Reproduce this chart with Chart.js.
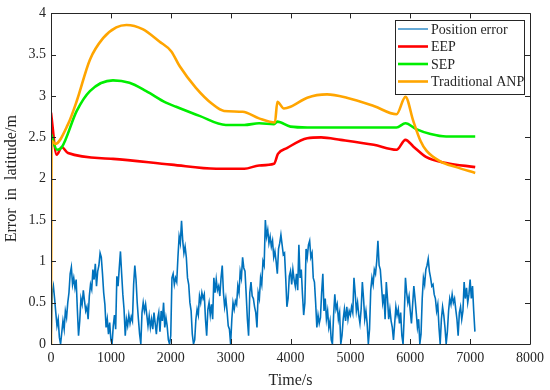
<!DOCTYPE html>
<html>
<head>
<meta charset="utf-8">
<script src="https://cdn.jsdelivr.net/npm/chart.js@4.4.0/dist/chart.umd.min.js"></script>
<style>
html,body{margin:0;padding:0;background:#fff;}
canvas{display:block;}
</style>
</head>
<body>
<canvas id="c" width="550" height="390"></canvas>
<script>
// ---- data ----
const xTicks = [0,1000,2000,3000,4000,5000,6000,7000,8000];
const yTicks = [0,0.5,1,1.5,2,2.5,3,3.5,4];
const seriesNames = ['Position error','EEP','SEP','Traditional ANP'];

// Position error sampled every 20 s starting at 0 s
const posStep = 20;
const posErr = [
 0.00,0.62,0.70,0.55,0.38,0.22,0.30,0.08,0.00,0.14,
 0.28,0.18,0.40,0.32,0.50,0.62,0.85,0.93,0.72,0.80,
 0.68,0.78,0.42,0.10,0.28,0.55,0.48,0.65,0.52,0.40,
 0.45,0.30,0.58,0.72,0.66,0.90,0.78,0.97,0.70,0.88,
 0.95,1.10,1.05,0.85,0.62,0.48,0.20,0.30,0.12,0.26,
 0.05,0.00,0.22,0.35,0.18,0.82,0.70,0.92,1.12,0.85,
 0.60,0.42,0.10,0.30,0.22,0.35,0.25,0.33,0.28,0.72,
 0.95,0.78,0.50,0.30,0.12,0.00,0.38,0.50,0.40,0.48,
 0.35,0.22,0.34,0.20,0.30,0.18,0.38,0.25,0.12,0.30,
 0.38,0.15,0.40,0.28,0.50,0.20,0.32,0.22,0.05,0.00,
 0.10,0.80,0.85,0.72,0.80,0.75,1.05,1.30,1.22,1.49,
 1.25,1.10,1.18,1.05,0.80,0.72,0.50,0.40,0.12,0.00,
 0.05,0.30,0.42,0.35,0.58,0.50,0.62,0.55,0.60,0.30,
 0.10,0.42,0.50,0.35,0.48,0.30,0.80,0.62,0.78,0.65,
 0.70,0.58,0.80,0.95,0.62,0.45,0.55,0.40,0.22,0.18,
 0.00,0.30,0.50,0.42,0.52,0.48,0.70,0.62,0.88,0.80,
 1.05,0.92,0.88,0.60,0.30,0.10,0.62,0.75,0.58,0.55,
 0.45,0.38,0.20,0.62,0.55,0.80,0.72,1.00,0.95,1.50,
 1.30,1.38,1.22,1.30,1.18,1.25,1.05,1.12,1.00,0.85,
 1.15,1.22,1.32,1.20,1.08,1.10,0.80,0.45,0.55,0.82,
 0.88,0.72,0.90,0.78,0.70,0.85,0.65,1.20,0.80,0.90,
 0.60,0.35,0.50,1.15,1.05,1.20,1.25,1.05,1.10,0.80,
 0.75,0.50,0.20,0.35,0.25,0.32,0.62,0.85,0.40,0.55,
 0.30,0.40,0.20,0.28,0.05,0.00,0.35,0.60,0.42,0.48,
 0.30,0.38,0.00,0.10,0.30,0.42,0.28,0.45,0.30,0.40,
 0.35,0.45,0.38,0.80,0.62,0.40,0.50,0.35,0.25,0.42,
 0.75,0.55,0.30,0.40,0.25,0.00,0.18,0.65,0.80,0.72,
 0.90,0.85,1.00,1.25,0.95,0.90,0.70,0.50,0.60,0.30,
 0.75,0.55,0.30,0.42,0.28,0.20,0.05,0.25,0.45,0.35,
 0.42,0.25,0.38,0.10,0.00,0.35,0.80,0.62,0.50,0.58,
 0.40,0.25,0.48,0.70,0.55,0.38,0.20,0.30,0.00,0.12,
 0.55,0.80,0.72,0.90,0.95,1.03,0.88,0.80,0.70,0.72,
 0.60,0.55,0.40,0.48,0.20,0.00,0.30,0.45,0.35,0.20,
 0.00,0.15,0.40,0.55,0.48,0.60,0.50,0.55,0.42,0.30,
 0.10,0.38,0.45,0.30,0.40,0.75,0.55,0.68,0.50,0.60,
 0.78,0.55,0.70,0.40,0.15
];

const eepT = [0,95,180,285,1036,2010,2760,3230,3475,3725,3790,3940,4280,4510,4840,5390,5770,5920,6050,6270,6600,7085];
const eepV = [2.80,2.29,2.38,2.31,2.24,2.17,2.12,2.12,2.16,2.18,2.30,2.37,2.49,2.50,2.47,2.41,2.35,2.47,2.39,2.26,2.19,2.14];

const sepT = [0,100,180,430,650,1035,1310,1590,1920,2090,2480,2920,3230,3475,3725,3780,4000,4280,5770,5920,6100,6340,6600,7085];
const sepV = [2.54,2.35,2.38,2.82,3.06,3.19,3.16,3.06,2.92,2.87,2.76,2.65,2.65,2.67,2.66,2.69,2.63,2.62,2.62,2.67,2.60,2.54,2.51,2.51];

const anpT = [0,10,70,285,430,650,870,1090,1260,1530,1810,2010,2150,2420,2700,2890,3200,3475,3740,3780,3890,4000,4280,4610,4940,5390,5770,5920,6050,6170,6270,6500,6770,7085];
const anpV = [0,2.46,2.42,2.66,2.94,3.44,3.70,3.83,3.86,3.81,3.66,3.54,3.36,3.10,2.90,2.82,2.81,2.73,2.68,2.93,2.85,2.87,2.98,3.02,2.98,2.88,2.78,2.99,2.70,2.46,2.34,2.21,2.14,2.07];

// ---- build ----
const zip = (t,v) => t.map((x,i)=>({x:x,y:v[i]}));
const posData = posErr.map((v,i)=>({x:i*posStep,y:v}));
const colors = ['#0072BD','#FF0000','#00EE00','#FFA500'];
const widths = [1.6,2.6,2.6,2.6];
const FONT = '"Liberation Serif", "Times New Roman", serif';
const INK = '#262626';

const frame = {
  id:'frame',
  afterDatasetsDraw(chart){
    const {ctx, chartArea:a, scales:{x,y}} = chart;
    ctx.save();
    ctx.strokeStyle = INK; ctx.lineWidth = 1;
    ctx.beginPath();
    ctx.rect(Math.round(a.left)+0.5, Math.round(a.top)+0.5, Math.round(a.right-a.left), Math.round(a.bottom-a.top));
    ctx.stroke();
    const L=5;
    ctx.beginPath();
    xTicks.forEach(v=>{
      const p = Math.round(x.getPixelForValue(v))+0.5;
      ctx.moveTo(p,a.bottom); ctx.lineTo(p,a.bottom-L);
      ctx.moveTo(p,a.top); ctx.lineTo(p,a.top+L);
    });
    yTicks.forEach(v=>{
      const p = Math.round(y.getPixelForValue(v))+0.5;
      ctx.moveTo(a.left,p); ctx.lineTo(a.left+L,p);
      ctx.moveTo(a.right,p); ctx.lineTo(a.right-L,p);
    });
    ctx.stroke();
    ctx.restore();
  },
  afterDraw(chart){
    const ctx = chart.ctx;
    const bx=395.5, by=20.5, bw=129, bh=74;
    ctx.save();
    ctx.fillStyle='#fff';
    ctx.fillRect(bx,by,bw,bh);
    ctx.strokeStyle=INK; ctx.lineWidth=1;
    ctx.strokeRect(bx,by,bw,bh);
    ctx.font = '14px '+FONT;
    ctx.textBaseline='middle';
    ctx.textAlign='left';
    const rows=[29,46.5,64,81.5];
    seriesNames.forEach((n,i)=>{
      ctx.strokeStyle=colors[i]; ctx.lineWidth=(i===0?1.2:widths[i]);
      ctx.beginPath(); ctx.moveTo(398,rows[i]); ctx.lineTo(428,rows[i]); ctx.stroke();
      ctx.fillStyle=INK;
      ctx.fillText(n,431,rows[i]+1);
    });
    ctx.restore();
  }
};

const ds = (label,data,i,order,mono)=>({
  label:label, data:data, borderColor:colors[i], backgroundColor:colors[i],
  borderWidth:widths[i], pointRadius:0, fill:false, order:order,
  cubicInterpolationMode: mono ? 'monotone' : 'default', tension: 0
});

new Chart(document.getElementById('c'),{
  type:'line',
  data:{datasets:[
    ds(seriesNames[0],posData,0,3,false),
    ds(seriesNames[1],zip(eepT,eepV),1,2,true),
    ds(seriesNames[2],zip(sepT,sepV),2,1,true),
    ds(seriesNames[3],zip(anpT,anpV),3,0,true)
  ]},
  options:{
    responsive:false, animation:false, devicePixelRatio:1,
    layout:{padding:{top:12,right:18,left:2,bottom:0}},
    plugins:{legend:{display:false},tooltip:{enabled:false}},
    scales:{
      x:{type:'linear',min:0,max:8000,
        afterBuildTicks(s){ s.ticks = xTicks.map(v=>({value:v})); },
        afterFit(s){ s.height = 46; },
        grid:{display:false,drawTicks:false},
        border:{display:false},
        ticks:{padding:6,color:INK,font:{family:FONT,size:14},maxRotation:0,autoSkip:false,
          callback:(v)=>String(v)},
        title:{display:true,text:'Time/s',color:INK,font:{family:FONT,size:16},padding:{top:0,bottom:0}}
      },
      y:{type:'linear',min:0,max:4,
        afterBuildTicks(s){ s.ticks = yTicks.map(v=>({value:v})); },
        afterFit(s){ s.width = 49; },
        grid:{display:false,drawTicks:false},
        border:{display:false},
        ticks:{padding:5,color:INK,font:{family:FONT,size:14},autoSkip:false,
          callback:(v)=>String(v)},
        title:{display:true,text:'Error  in  latitude/m',color:INK,font:{family:FONT,size:16},padding:{top:0,bottom:0}}
      }
    }
  },
  plugins:[frame]
});
</script>
</body>
</html>
